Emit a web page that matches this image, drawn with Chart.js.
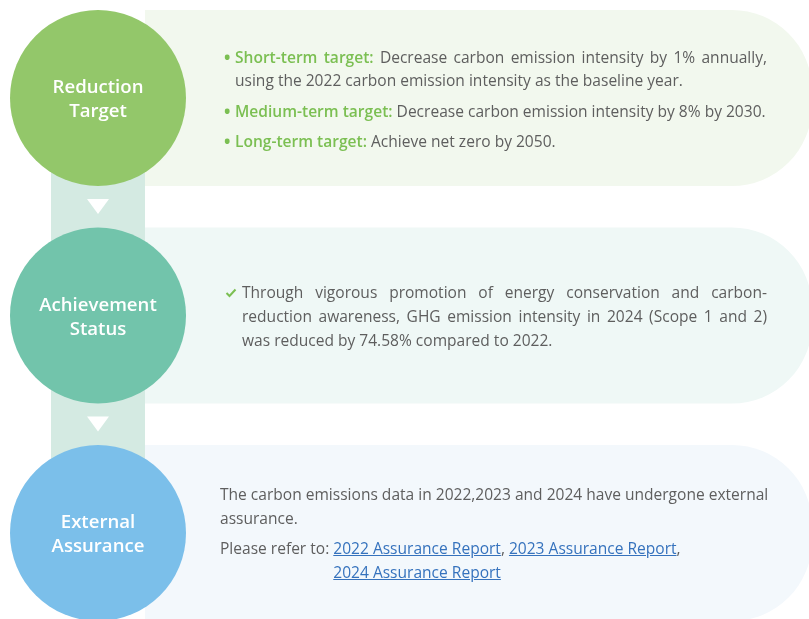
<!DOCTYPE html>
<html lang="en">
<head>
  <meta charset="UTF-8">
  <title>Carbon Reduction Targets</title>
  <script src="https://cdn.jsdelivr.net/npm/chart.js@4.4.1/dist/chart.umd.min.js"></script>
  <style>
    body {
      margin: 0;
      width: 809px;
      height: 619px;
      overflow: hidden;
      background: #ffffff;
      font-family: "Open Sans", "Noto Sans", sans-serif;
      color: #5e5e5e;
      font-size: 15.55px;
    }
    #stage-chart {
      position: absolute;
      left: 0;
      top: 0;
      pointer-events: none;
    }
    .panel-text {
      position: absolute;
      z-index: 2;
    }
    #targets {
      left: 224px;
      top: 46px;
      width: 543px;
      line-height: 23px;
    }
    #targets .item {
      position: relative;
      padding-left: 11px;
      margin-bottom: 7.5px;
      text-align: justify;
    }
    #targets .item::before {
      content: "\2022";
      position: absolute;
      left: 0;
      top: 0;
      color: #7bbf52;
      font-weight: 700;
      font-size: 17px;
    }
    #targets .label {
      color: #7bbf52;
      font-weight: 600;
    }
    #status {
      left: 224px;
      top: 280px;
      width: 543px;
      line-height: 24px;
      padding-left: 18px;
      box-sizing: border-box;
      text-align: justify;
    }
    #status svg {
      position: absolute;
      left: 1px;
      top: 8px;
    }
    #assurance {
      left: 220px;
      top: 482px;
      width: 550px;
      line-height: 24px;
    }
    #assurance .refer {
      display: flex;
      margin-top: 6px;
    }
    #assurance .links {
      width: 360px;
    }
    #assurance a {
      color: #3572bd;
      text-decoration: underline;
      white-space: nowrap;
    }
  </style>
</head>
<body>
  <canvas id="stage-chart" width="809" height="619"></canvas>

  <div id="targets" class="panel-text"></div>
  <div id="status" class="panel-text"></div>
  <div id="assurance" class="panel-text"></div>

  <script>
    // stages shown as circles, top to bottom
    const stageTitles = [['Reduction', 'Target'], ['Achievement', 'Status'], ['External', 'Assurance']];
    const stageIndex = [0, 1, 2];
    const circleColors = ['#93c76a', '#72c4ab', '#7bbfea'];
    const panelColors = ['#f2f8ee', '#eff8f6', '#f3f8fc'];

    // panel texts
    const targetLabels = ['Short-term target:', 'Medium-term target:', 'Long-term target:'];
    const targetTexts = [
      'Decrease carbon emission intensity by 1% annually, using the 2022 carbon emission intensity as the baseline year.',
      'Decrease carbon emission intensity by 8% by 2030.',
      'Achieve net zero by 2050.'
    ];
    const statusText = 'Through vigorous promotion of energy conservation and carbon-reduction awareness, GHG emission intensity in 2024 (Scope 1 and 2) was reduced by 74.58% compared to 2022.';
    const assuranceText = 'The carbon emissions data in 2022,2023 and 2024 have undergone external assurance.';
    const referText = 'Please refer to:';
    const reportLinks = ['2022 Assurance Report', '2023 Assurance Report', '2024 Assurance Report'];

    // text blocks
    document.getElementById('targets').innerHTML = targetLabels.map(function(label, i) {
      return '<div class="item"><span class="label">' + label + '</span> ' + targetTexts[i] + '</div>';
    }).join('');

    document.getElementById('status').innerHTML =
      '<svg width="12" height="10" viewBox="0 0 12 10"><polyline points="1.5,5 4.5,8 10.5,1.5" fill="none" stroke="#7bbf52" stroke-width="2"/></svg>' +
      statusText;

    document.getElementById('assurance').innerHTML =
      '<div>' + assuranceText + '</div>' +
      '<div class="refer"><span>' + referText + '&nbsp;</span><span class="links">' +
      reportLinks.map(function(r, i) {
        return '<a href="#">' + r + '</a>' + (i < reportLinks.length - 1 ? ', ' : '');
      }).join('') +
      '</span></div>';

    var RADIUS = 88;

    // panels, connector band and arrows behind the circles
    var backdrop = {
      id: 'backdrop',
      beforeDatasetsDraw: function(chart) {
        var ctx = chart.ctx;
        var pts = chart.getDatasetMeta(0).data;
        ctx.save();
        pts.forEach(function(p, i) {
          ctx.fillStyle = panelColors[i];
          ctx.beginPath();
          ctx.roundRect(p.x + 47, p.y - RADIUS, 812 - (p.x + 47), RADIUS * 2, [0, 80, 80, 0]);
          ctx.fill();
        });
        var first = pts[0], last = pts[pts.length - 1];
        ctx.fillStyle = '#d4eae2';
        ctx.fillRect(first.x - 47, first.y, 94, last.y - first.y);
        ctx.fillStyle = '#ffffff';
        for (var i = 0; i < pts.length - 1; i++) {
          var top = pts[i].y + RADIUS + 13;
          ctx.beginPath();
          ctx.moveTo(pts[i].x - 11, top);
          ctx.lineTo(pts[i].x + 11, top);
          ctx.lineTo(pts[i].x, top + 15);
          ctx.closePath();
          ctx.fill();
        }
        ctx.restore();
      },
      afterDatasetsDraw: function(chart) {
        var ctx = chart.ctx;
        var pts = chart.getDatasetMeta(0).data;
        ctx.save();
        ctx.fillStyle = '#ffffff';
        ctx.font = '600 18.6px "Open Sans"';
        ctx.textAlign = 'center';
        ctx.textBaseline = 'middle';
        pts.forEach(function(p, i) {
          ctx.fillText(stageTitles[i][0], p.x, p.y - 10);
          ctx.fillText(stageTitles[i][1], p.x, p.y + 14);
        });
        ctx.restore();
      }
    };

    var ctx = document.getElementById('stage-chart').getContext('2d');
    var stageChart = new Chart(ctx, {
      type: 'scatter',
      data: {
        datasets: [{
          data: stageIndex.map(function(i) { return { x: 0, y: i }; }),
          pointRadius: RADIUS,
          pointHoverRadius: RADIUS,
          pointBackgroundColor: circleColors,
          pointBorderWidth: 0,
          clip: false
        }]
      },
      options: {
        responsive: false,
        animation: false,
        events: [],
        layout: { padding: 0, autoPadding: false },
        plugins: {
          legend: { display: false },
          tooltip: { enabled: false }
        },
        scales: {
          x: { type: 'linear', min: -98, max: 711, display: false },
          y: { type: 'linear', min: -98 / 217.5, max: (619 - 98) / 217.5, reverse: true, display: false }
        }
      },
      plugins: [backdrop]
    });
  </script>
</body>
</html>
